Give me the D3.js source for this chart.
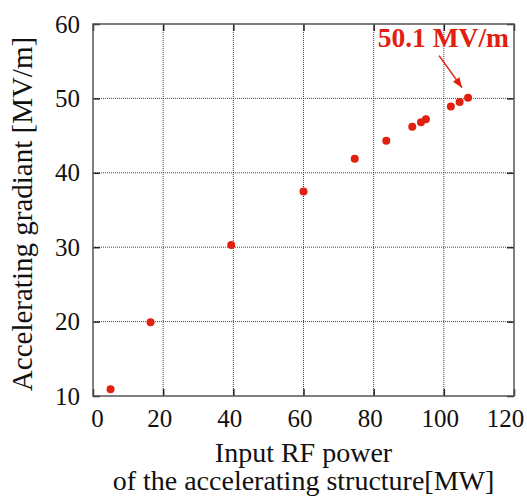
<!DOCTYPE html>
<html>
<head>
<meta charset="utf-8">
<script src="https://cdn.jsdelivr.net/npm/d3@7"></script>
<style>
  body { margin: 0; background: #fff; }
  text { font-family: "Liberation Serif", "Times New Roman", serif; }
</style>
</head>
<body>
<div id="chart"></div>
<script>
var power = [5.0, 16.4, 39.4, 60.0, 74.6, 83.6, 91.0, 93.5, 94.9, 102.0, 104.5, 106.9];
var gradient = [10.9, 19.9, 30.3, 37.5, 41.9, 44.3, 46.2, 46.8, 47.2, 48.9, 49.5, 50.1];
var xTicks = [0, 20, 40, 60, 80, 100, 120];
var yTicks = [10, 20, 30, 40, 50, 60];
var peakLabel = "50.1 MV/m";

var width = 527, height = 501;
var margin = {top: 24, right: 13, bottom: 105, left: 93};
var w = width - margin.left - margin.right,
    h = height - margin.top - margin.bottom;
var red = "#e2200f";

var svg = d3.select("#chart").append("svg")
    .attr("width", width)
    .attr("height", height)
  .append("g")
    .attr("transform", "translate(" + margin.left + "," + margin.top + ")");

var x = d3.scaleLinear().domain([0, 120]).range([0, w]);
var y = d3.scaleLinear().domain([10, 60]).range([h, 0]);

// grid
svg.selectAll(".vgrid")
    .data(xTicks.slice(1, -1))
  .enter().append("line")
    .attr("x1", function(d) { return x(d); })
    .attr("x2", function(d) { return x(d); })
    .attr("y1", 0).attr("y2", h)
    .attr("stroke", "#444").attr("stroke-width", 1)
    .attr("stroke-dasharray", "1,1");
svg.selectAll(".hgrid")
    .data(yTicks.slice(1, -1))
  .enter().append("line")
    .attr("y1", function(d) { return y(d); })
    .attr("y2", function(d) { return y(d); })
    .attr("x1", 0).attr("x2", w)
    .attr("stroke", "#444").attr("stroke-width", 1)
    .attr("stroke-dasharray", "1,1");

// axes, ticks inside, mirrored
function styleAxis(g) {
  g.select(".domain").remove();
  g.selectAll(".tick line").attr("stroke", "#222").attr("stroke-width", 1.5);
  g.selectAll("text").attr("fill", "#111")
    .style("font-family", "Liberation Serif, serif").style("font-size", "25px");
}
svg.append("g")
    .attr("transform", "translate(0," + h + ")")
    .call(d3.axisBottom(x).tickValues(xTicks).tickSizeInner(-7).tickSizeOuter(0).tickPadding(13))
    .call(styleAxis)
    .selectAll("text")
      .attr("dx", function(d) { return d === 0 ? 4 : (d === 120 ? -9 : -4); });
svg.append("g")
    .call(d3.axisTop(x).tickValues(xTicks).tickSizeInner(-7).tickSizeOuter(0).tickFormat(""))
    .call(styleAxis);
svg.append("g")
    .call(d3.axisLeft(y).tickValues(yTicks).tickSizeInner(-7).tickSizeOuter(0).tickPadding(13))
    .call(styleAxis);
svg.append("g")
    .attr("transform", "translate(" + w + ",0)")
    .call(d3.axisRight(y).tickValues(yTicks).tickSizeInner(-7).tickSizeOuter(0).tickFormat(""))
    .call(styleAxis);

// frame
svg.append("rect")
    .attr("width", w).attr("height", h)
    .attr("fill", "none").attr("stroke", "#555").attr("stroke-width", 1.5);

// points
svg.selectAll(".dot")
    .data(power)
  .enter().append("circle")
    .attr("class", "dot")
    .attr("cx", function(d) { return x(d); })
    .attr("cy", function(d, i) { return y(gradient[i]); })
    .attr("r", 4)
    .attr("fill", red);

// annotation
var last = power.length - 1;
svg.append("text")
    .attr("x", x(power[last]) + 41)
    .attr("y", y(gradient[last]) - 51)
    .attr("text-anchor", "end")
    .attr("fill", red)
    .style("font-size", "27.5px").style("font-weight", "bold")
    .text(peakLabel);
var ax2 = x(power[last]) - 6, ay2 = y(gradient[last]) - 10;
var ax1 = ax2 - 23, ay1 = ay2 - 32;
svg.append("line")
    .attr("x1", ax1).attr("y1", ay1).attr("x2", ax2).attr("y2", ay2)
    .attr("stroke", red).attr("stroke-width", 1.5);
var ang = Math.atan2(ay2 - ay1, ax2 - ax1);
svg.append("path")
    .attr("d", "M0,0L-10,-4L-10,4Z")
    .attr("transform", "translate(" + ax2 + "," + ay2 + ") rotate(" + (ang * 180 / Math.PI) + ")")
    .attr("fill", red);

// axis titles
svg.append("text")
    .attr("x", w / 2 + 0).attr("y", h + 66)
    .attr("text-anchor", "middle")
    .style("font-size", "28px").attr("fill", "#111")
    .text("Input RF power");
svg.append("text")
    .attr("x", w / 2 + 0).attr("y", h + 94)
    .attr("text-anchor", "middle")
    .style("font-size", "28px").attr("fill", "#111")
    .text("of the accelerating structure[MW]");
svg.append("text")
    .attr("transform", "translate(" + (32 - margin.left) + "," + (214 - margin.top) + ") rotate(-90)")
    .attr("text-anchor", "middle")
    .style("font-size", "29px").attr("fill", "#111")
    .text("Accelerating gradiant [MV/m]");
</script>
</body>
</html>
